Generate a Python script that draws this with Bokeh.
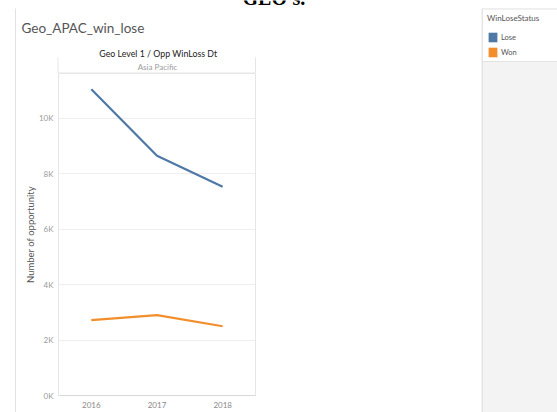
from bokeh.plotting import figure
from bokeh.layouts import row, column
from bokeh.models import (FactorRange, Range1d, FixedTicker, Label, Legend,
                          LegendItem, ColumnDataSource)
from bokeh.embed import file_html
from bokeh.resources import INLINE

# Opportunities per closing year, split by win/lose status (Asia Pacific)
years = ["2016", "2017", "2018"]
lose = [11050, 8650, 7530]
won = [2720, 2900, 2500]

y_ticks = [0, 2000, 4000, 6000, 8000, 10000]
y_tick_labels = ["0K", "2K", "4K", "6K", "8K", "10K"]

LOSE_COLOR = "#4e79a7"
WON_COLOR = "#f28e2b"
FONT = "Lato"

W, H = 557, 412
STRIP_W = 16          # left sheet margin with its border line
SIDE_X = 481          # where the legend side panel starts
HEAD_H = 73           # header block above the chart pane
FL, FR, FB = 58, 255, 395   # chart pane edges on the page


def canvas_fig(x0, x1, y0, y1):
    """A figure whose frame fills it, addressed in page pixels."""
    f = figure(width=x1 - x0, height=y1 - y0, output_backend="svg",
               toolbar_location=None, x_axis_type=None, y_axis_type=None,
               x_range=Range1d(x0, x1), y_range=Range1d(y1, y0),
               min_border=0)
    f.outline_line_color = None
    f.background_fill_color = "white"
    f.border_fill_color = "white"
    return f


def rect_px(f, x0, x1, y0, y1, color):
    f.quad(left=[x0], right=[x1], top=[y0], bottom=[y1],
           fill_color=color, line_color=None)


def text_px(f, text, x, y, size, color, align="left", font=FONT,
            style="normal"):
    f.add_layout(Label(x=x, y=y, text=text, text_font=font,
                       text_font_size=size, text_color=color,
                       text_align=align, text_baseline="middle",
                       text_font_style=style))


# ---- left margin strip -------------------------------------------------
strip = canvas_fig(0, STRIP_W, 0, H)
rect_px(strip, 14.5, 15.5, 8, H, "#e2e2e2")

# ---- header block ------------------------------------------------------
head = canvas_fig(STRIP_W, SIDE_X, 0, HEAD_H)
text_px(head, "GEO's.", 242, -3, "20px", "#000000", font="Liberation Serif",
        style="bold")
text_px(head, "Geo_APAC_win_lose", 21, 27, "13.5px", "#555555")
text_px(head, "Geo Level 1  /  Opp WinLoss Dt", 160, 53, "8.8px", "#222222",
        align="center")
text_px(head, "Asia Pacific", 157, 66, "8px", "#9a9a9a", align="center")
rect_px(head, 57, 58, 57, HEAD_H, "#e6e6e6")
rect_px(head, 254.5, 255.5, 57, HEAD_H, "#e6e6e6")
rect_px(head, 57, 255.5, 72, HEAD_H, "#e8e8e8")

# ---- chart pane --------------------------------------------------------
chart = figure(width=SIDE_X - STRIP_W, height=H - HEAD_H,
               output_backend="svg", toolbar_location=None,
               x_range=FactorRange(factors=years, range_padding=0),
               y_range=Range1d(0, 11620),
               min_border_left=FL - STRIP_W, min_border_right=SIDE_X - FR,
               min_border_top=0, min_border_bottom=H - FB)
chart.outline_line_color = "#e6e6e6"
chart.background_fill_color = "white"
chart.border_fill_color = "white"

chart.line(years, lose, line_color=LOSE_COLOR, line_width=2.2)
chart.line(years, won, line_color=WON_COLOR, line_width=2.2)

chart.xgrid.grid_line_color = None
chart.ygrid.ticker = FixedTicker(ticks=y_ticks)
chart.ygrid.grid_line_color = "#eeeeee"

ya = chart.yaxis[0]
ya.ticker = FixedTicker(ticks=y_ticks)
ya.major_label_overrides = dict(zip(y_ticks, y_tick_labels))
ya.axis_line_color = None
ya.major_tick_line_color = None
ya.minor_tick_line_color = None
ya.major_tick_out = 0
ya.major_tick_in = 0
ya.major_label_text_font = FONT
ya.major_label_text_font_size = "8px"
ya.major_label_text_color = "#9a9a9a"
ya.major_label_standoff = 5
ya.axis_label = "Number of opportunity"
ya.axis_label_text_font = FONT
ya.axis_label_text_font_size = "9.5px"
ya.axis_label_text_font_style = "normal"
ya.axis_label_text_color = "#555555"
ya.axis_label_standoff = 0

xa = chart.xaxis[0]
xa.axis_line_color = "#d9d9d9"
xa.major_tick_line_color = None
xa.minor_tick_line_color = None
xa.major_tick_out = 0
xa.major_tick_in = 0
xa.major_label_text_font = FONT
xa.major_label_text_font_size = "8px"
xa.major_label_text_color = "#888888"
xa.major_label_standoff = 6

# ---- legend side panel -------------------------------------------------
side = canvas_fig(SIDE_X, W, 0, H)
rect_px(side, SIDE_X, W, 8, H, "#f3f3f3")
rect_px(side, SIDE_X + 1, W, 8, 61.5, "#e3e3e3")
rect_px(side, SIDE_X + 1, W, 9, 60.5, "#ffffff")
rect_px(side, SIDE_X, SIDE_X + 1, 8, H, "#d6d6d6")

# zero-size swatch renderers that give the legend its colour squares
sw_lose = side.rect("x", "y", width=0, height=0, fill_color=LOSE_COLOR,
                    line_color=None,
                    source=ColumnDataSource(dict(x=[0], y=[0])))
sw_won = side.rect("x", "y", width=0, height=0, fill_color=WON_COLOR,
                   line_color=None,
                   source=ColumnDataSource(dict(x=[0], y=[0])))

legend = Legend(items=[LegendItem(label="Lose", renderers=[sw_lose]),
                       LegendItem(label="Won", renderers=[sw_won])],
                title="WinLoseStatus",
                location=(6, H - 13 - 45),
                orientation="vertical",
                padding=0, margin=0, spacing=3,
                glyph_width=11, glyph_height=12, label_height=12,
                label_standoff=3,
                label_text_font=FONT, label_text_font_size="7.5px",
                label_text_color="#555555",
                title_text_font=FONT, title_text_font_size="8px",
                title_text_font_style="normal", title_text_color="#555555",
                title_standoff=8,
                border_line_color=None, background_fill_alpha=0)
side.add_layout(legend)

layout = row(strip, column(row(head), row(chart)), side)

open("out.html", "w").write(file_html(layout, INLINE))
